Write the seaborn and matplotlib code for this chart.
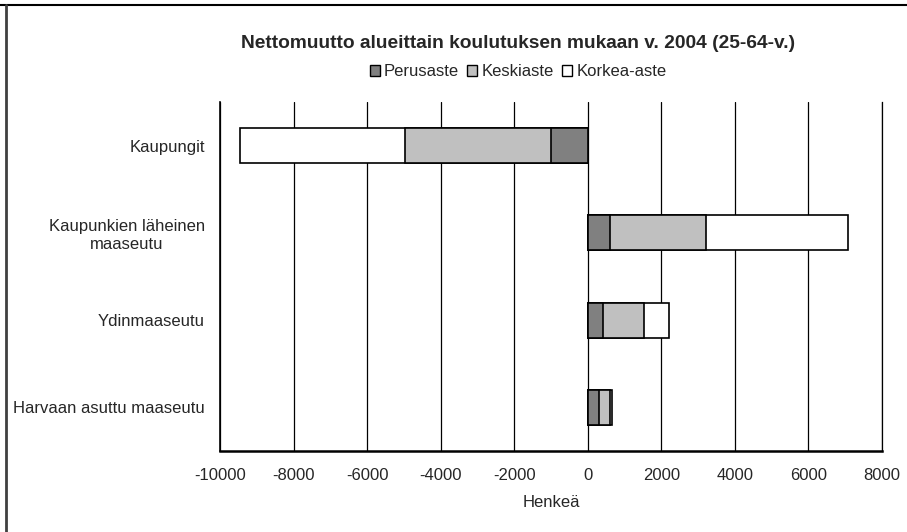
import numpy as np
import pandas as pd
import matplotlib
matplotlib.use('Agg')
import matplotlib.pyplot as plt
import seaborn as sns
from matplotlib.patches import Patch
from matplotlib.lines import Line2D

# data (persons, net migration 2004, age 25-64)
regions = ['Kaupungit', 'Kaupunkien läheinen\nmaaseutu', 'Ydinmaaseutu', 'Harvaan asuttu maaseutu']
perusaste = [-990, 607, 408, 307]
keskiaste = [-3990, 2620, 1116, 300]
korkea_aste = [-4480, 3848, 680, 50]
levels = ['Perusaste', 'Keskiaste', 'Korkea-aste']
colors = ['#808080', '#c0c0c0', '#ffffff']
xticks = list(range(-10000, 8001, 2000))

df = pd.DataFrame({'Alue': regions, 'Perusaste': perusaste,
                   'Keskiaste': keskiaste, 'Korkea-aste': korkea_aste})
# cumulative ends so the stacked look comes from overlapping bars
df['c1'] = df['Perusaste']
df['c2'] = df['c1'] + df['Keskiaste']
df['c3'] = df['c2'] + df['Korkea-aste']

sns.set_style('white')
plt.rcParams['font.family'] = ['Liberation Sans', 'DejaVu Sans']

fig = plt.figure(figsize=(9.07, 5.32), dpi=100)
ax = fig.add_axes([220/907, 1 - 451/532, 662/907, 349/532])

for col, c in [('c3', colors[2]), ('c2', colors[1]), ('c1', colors[0])]:
    sns.barplot(data=df, x=col, y='Alue', orient='h', color=c, saturation=1,
                edgecolor='black', linewidth=1.2, width=0.4, ax=ax, zorder=3)

ax.set_xlim(-10000, 8000)
ax.set_xticks(xticks)
ax.set_xticklabels([str(t) for t in xticks], fontsize=12)
ax.grid(axis='x', color='black', linewidth=0.9)
ax.set_axisbelow(True)
ax.tick_params(axis='both', length=0, labelsize=12)
ax.tick_params(axis='x', pad=12)
ax.tick_params(axis='y', pad=11)
for lbl in ax.get_yticklabels():
    lbl.set_multialignment('center')
ax.set_ylabel('')
ax.set_xlabel('Henkeä', fontsize=12, labelpad=9)
ax.spines['top'].set_visible(False)
for s in ['left', 'bottom', 'right']:
    ax.spines[s].set_color('black')
ax.spines['left'].set_linewidth(1.2)
ax.spines['bottom'].set_linewidth(1.8)
ax.spines['right'].set_linewidth(0.9)

fig.text(518/907, 1 - 44/532, 'Nettomuutto alueittain koulutuksen mukaan v. 2004 (25-64-v.)',
         ha='center', va='center', fontsize=13.8, fontweight='bold')
handles = [Patch(facecolor=c, edgecolor='black', linewidth=1) for c in colors]
fig.legend(handles, levels, loc='center', bbox_to_anchor=(518/907, 1 - 72/532), ncol=3,
           frameon=False, fontsize=12, handlelength=0.6, handleheight=0.6,
           handletextpad=0.25, columnspacing=0.5)

# outer frame (only top and left are visible in the crop)
fig.add_artist(Line2D([0, 1], [1 - 4.5/532] * 2, color='black', linewidth=1.5, transform=fig.transFigure))
fig.add_artist(Line2D([6/907] * 2, [0, 1 - 4.5/532], color='#404040', linewidth=2, transform=fig.transFigure))

fig.savefig('out.png', dpi=100)
